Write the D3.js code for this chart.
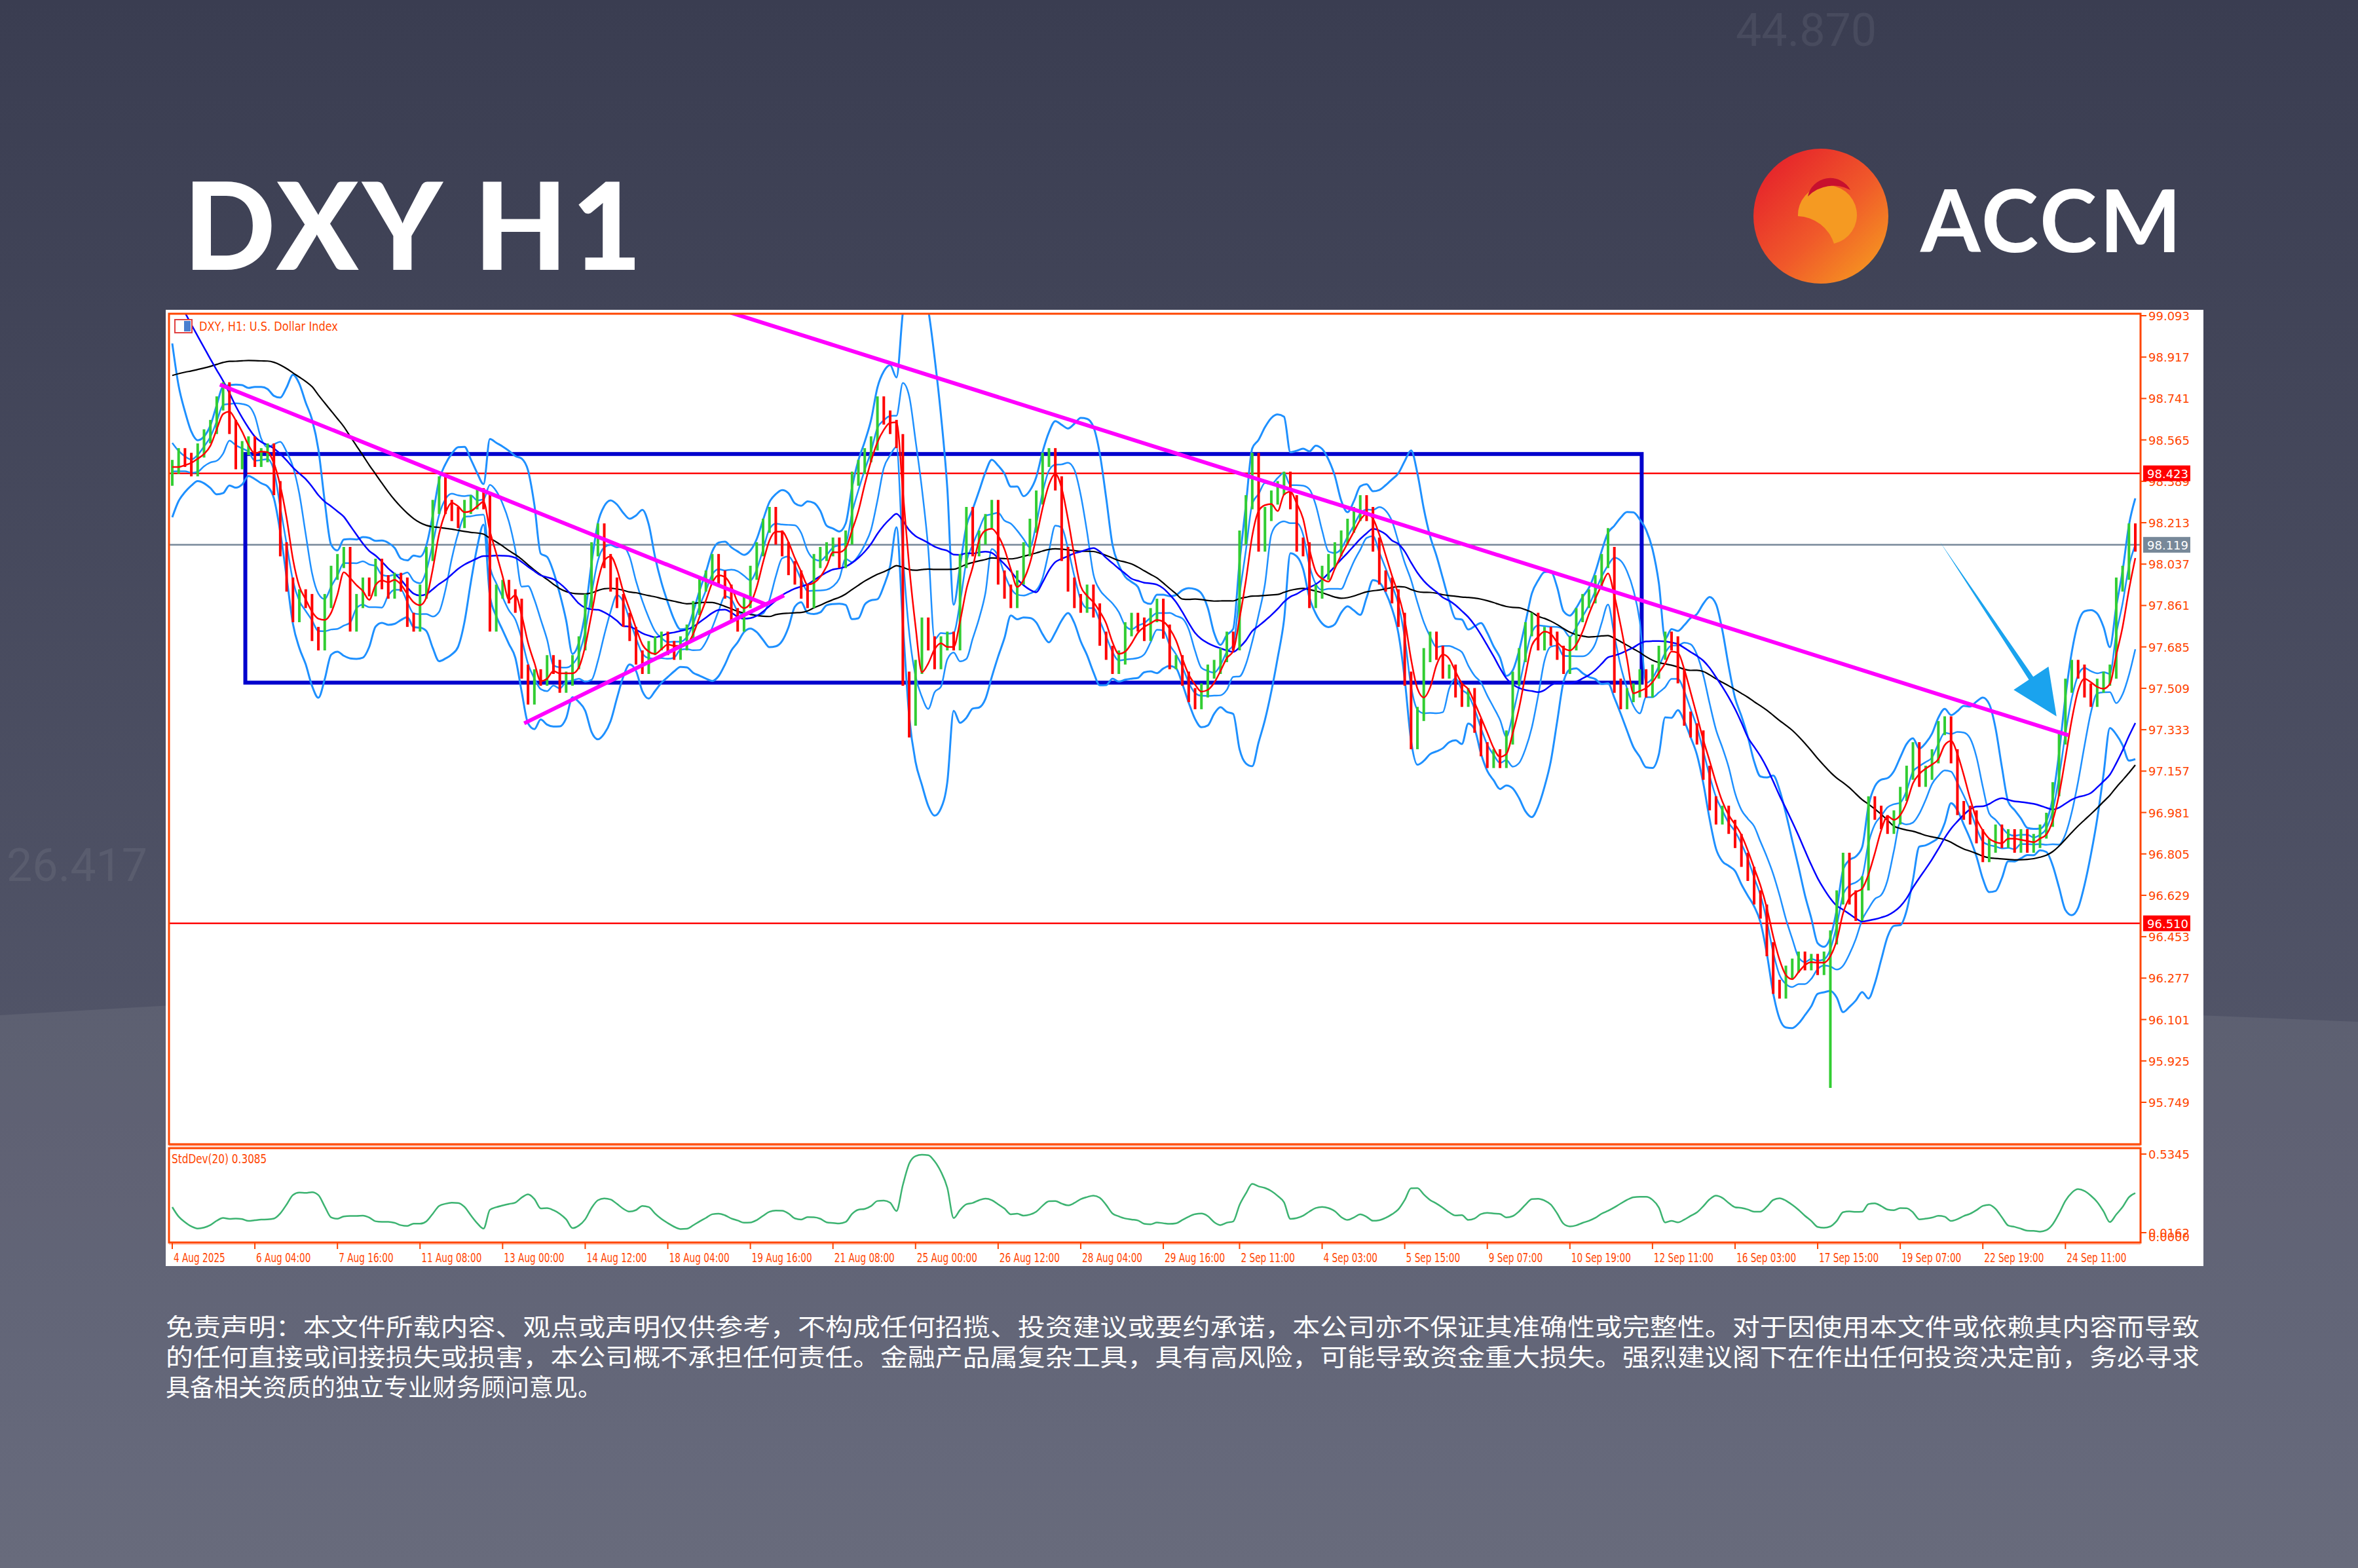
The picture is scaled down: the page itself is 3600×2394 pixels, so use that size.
<!DOCTYPE html>
<html><head><meta charset="utf-8">
<script src="https://cdn.jsdelivr.net/npm/d3@7/dist/d3.min.js"></script>
<style>html,body{margin:0;padding:0;background:#3d4054;}svg{display:block}</style>
</head><body>
<script>
// ---------- DATA ----------
const closes = [
98.45,98.50,98.48,98.44,98.52,98.58,98.62,98.72,98.78,98.62,98.47,98.53,98.55,98.48,98.50,98.52,98.36,98.10,97.95,97.82,
97.90,97.88,97.74,97.70,97.88,98.00,98.05,98.08,97.78,97.88,97.95,97.93,98.03,97.96,97.92,97.97,97.95,97.80,97.78,97.92,
98.08,98.28,98.38,98.28,98.25,98.22,98.28,98.30,98.33,98.30,97.78,97.92,97.94,97.90,97.86,97.58,97.47,97.56,97.55,97.62,
97.60,97.52,97.55,97.62,97.70,97.88,98.10,98.18,98.05,97.95,97.88,97.80,97.74,97.64,97.60,97.68,97.70,97.72,97.68,
97.66,97.70,97.75,97.85,97.95,97.98,98.05,97.98,97.92,97.82,97.78,97.88,98.00,98.10,98.20,98.25,98.15,98.10,98.02,97.98,
97.92,97.88,98.05,98.08,98.10,98.12,98.05,98.15,98.40,98.45,98.50,98.55,98.72,98.66,98.62,98.56,97.55,97.38,97.60,97.78,
97.70,97.62,97.70,97.72,97.70,98.05,98.25,98.10,98.15,98.22,98.28,97.98,97.92,97.88,97.98,98.10,98.20,98.32,98.48,98.50,
98.38,98.08,97.95,97.88,97.86,97.92,97.84,97.72,97.66,97.60,97.64,97.76,97.80,97.78,97.74,97.82,97.86,
97.75,97.62,97.62,97.55,97.48,97.45,97.50,97.58,97.60,97.65,97.72,97.70,98.15,98.30,98.48,98.12,98.25,98.32,98.36,98.40,
98.30,98.12,98.10,97.88,97.92,98.00,98.05,98.10,98.15,98.20,98.25,98.30,98.25,98.12,97.98,97.95,97.90,97.80,97.55,97.28,
97.40,97.65,97.72,97.66,97.58,97.58,97.50,97.46,97.48,97.35,97.25,97.20,97.22,97.20,97.30,97.55,97.65,97.76,97.80,97.70,
97.74,97.72,97.66,97.60,97.70,97.82,97.88,97.90,97.96,98.05,98.08,97.52,97.45,97.48,97.50,97.56,97.50,
97.58,97.66,97.72,97.70,97.56,97.38,97.33,97.30,97.15,97.02,96.96,96.98,96.92,96.86,96.78,96.72,96.62,96.56,96.40,96.24,
96.22,96.30,96.33,96.36,96.34,96.35,96.32,96.36,96.45,96.62,96.78,96.62,96.55,96.68,97.02,96.98,96.94,96.92,96.96,97.06,
97.15,97.25,97.12,97.15,97.22,97.34,97.36,97.22,97.00,96.98,96.96,96.88,96.80,96.84,96.90,96.86,96.88,96.84,96.88,96.84,
96.86,96.90,96.95,97.08,97.30,97.52,97.60,97.58,97.50,97.46,97.52,97.55,97.58,97.95,98.00,98.18,98.12
];
// closes before the visible window (used only to seed the moving averages)
const history = [98.10,98.15,98.20,98.20,98.25,98.30,98.30,98.35,98.40,98.40,98.45,98.45,98.50,98.50,98.55,98.55,98.60,98.60,98.65,98.65,98.70,98.70,98.75,
99.30,99.40,99.50,99.55,99.60,99.65,99.70,99.75,99.80,99.75,99.70,99.60,99.50,99.30,99.00,98.80,98.70,98.60,98.55,98.50,98.45,98.40];
const firstOpen = 98.40;
const spikeHighs = [[226, 98.19]];
const spikeLows = [[116, 97.30], [261, 95.81]];
const priceTicks = ["99.093","98.917","98.741","98.565","98.389","98.213","98.037","97.861","97.685","97.509","97.333","97.157","96.981","96.805","96.629","96.453","96.277","96.101","95.925","95.749"];
const timeLabels = ["4 Aug 2025","6 Aug 04:00","7 Aug 16:00","11 Aug 08:00","13 Aug 00:00","14 Aug 12:00","18 Aug 04:00","19 Aug 16:00","21 Aug 08:00","25 Aug 00:00","26 Aug 12:00","28 Aug 04:00","29 Aug 16:00","2 Sep 11:00","4 Sep 03:00","5 Sep 15:00","9 Sep 07:00","10 Sep 19:00","12 Sep 11:00","16 Sep 03:00","17 Sep 15:00","19 Sep 07:00","22 Sep 19:00","24 Sep 11:00"];
const timeIdx = [0,13,26,39,52,65,78,91,104,117,130,143,156,168,181,194,207,220,233,246,259,272,285,298];
const hLines = [{v:98.423,c:"#ff0000",label:"98.423"},{v:96.510,c:"#ff0000",label:"96.510"},{v:98.119,c:"#778899",label:"98.119"}];
const rectBox = {i0:11.5,i1:231.3,p0:98.505,p1:97.533};
const trendLines = [[87.9,99.106,298.5,97.309],[7.5,98.80,93.5,97.865],[55.4,97.36,96.3,97.904]];
const arrowLine = [278.2,98.134,296.6,97.39];
const stdTicks = [0.5345,0.0162];
const disclaimer = ["免责声明：本文件所载内容、观点或声明仅供参考，不构成任何招揽、投资建议或要约承诺，本公司亦不保证其准确性或完整性。对于因使用本文件或依赖其内容而导致",
"的任何直接或间接损失或损害，本公司概不承担任何责任。金融产品属复杂工具，具有高风险，可能导致资金重大损失。强烈建议阁下在作出任何投资决定前，务必寻求",
"具备相关资质的独立专业财务顾问意见。"];

// ---------- SETUP ----------
const W=3600,H=2394;
const svg=d3.select("body").append("svg").attr("width",W).attr("height",H);
const defs=svg.append("defs");
const bg=defs.append("linearGradient").attr("id","bg").attr("x1",0).attr("y1",0).attr("x2",0).attr("y2",1);
bg.append("stop").attr("offset",0).attr("stop-color","#3a3d51");
bg.append("stop").attr("offset",1).attr("stop-color","#5d6073");
svg.append("rect").attr("width",W).attr("height",H).attr("fill","url(#bg)");
svg.append("path").attr("d","M0,1550 L1400,1470 L3600,1560 L3600,2394 L0,2394Z").attr("fill","rgba(255,255,255,0.07)");
svg.append("text").attr("x",10).attr("y",1345).attr("font-family","Roboto").attr("font-size",70).attr("fill","rgba(255,255,255,0.07)").text("26.417");
svg.append("text").attr("x",2650).attr("y",70).attr("font-family","Roboto").attr("font-size",70).attr("fill","rgba(255,255,255,0.07)").text("44.870");

// title
svg.append("text").attr("x",280).attr("y",412).attr("font-family","Lato, 'Open Sans', sans-serif").attr("font-weight",900)
  .attr("font-size",185).attr("fill","#ffffff").attr("letter-spacing",6).text("DXY H1");
// logo
const lg=defs.append("linearGradient").attr("id","lg").attr("x1",0).attr("y1",0).attr("x2",1).attr("y2",1);
lg.append("stop").attr("offset",0).attr("stop-color","#e3162b");
lg.append("stop").attr("offset",0.55).attr("stop-color","#f0592a");
lg.append("stop").attr("offset",1).attr("stop-color","#f7a51e");
svg.append("circle").attr("cx",2780).attr("cy",330).attr("r",103).attr("fill","url(#lg)");
svg.append("path").attr("d","M2745,330 A45,45 0 1 1 2800,372 A60,60 0 0 0 2745,330Z").attr("fill","#f59a22");
svg.append("path").attr("d","M2760,300 A35,35 0 0 1 2825,290 A55,55 0 0 0 2760,300Z").attr("fill","#c8102e");
svg.append("text").attr("x",2932).attr("y",385).attr("font-family","Lato, sans-serif").attr("font-weight",700)
  .attr("font-size",132).attr("fill","#ffffff").attr("letter-spacing",4).text("ACCM");

// chart panel
const PX0=253, PX1=3364, PY0=473, PY1=1933;
svg.append("rect").attr("x",PX0).attr("y",PY0).attr("width",PX1-PX0).attr("height",PY1-PY0).attr("fill","#ffffff");
const L=258, R=3268, T=479, B=1747;
const SB0=1753, SB1=1897;
const orange="#ff4500";
const N=closes.length;
const x=d3.scaleLinear().domain([0,N-1]).range([263,3260]);
const y=d3.scaleLinear().domain([95.749,99.093]).range([1683,482]);
const ys=d3.scaleLinear().domain([0.0162,0.5345]).range([1882,1762]);

const all=history.concat(closes), off=history.length;
const bars=closes.map((c,i)=>{
  const o=i===0?firstOpen:closes[i-1];
  let h=Math.max(o,c)+0.03, l=Math.min(o,c)-0.03;
  spikeHighs.forEach(s=>{if(s[0]===i)h=s[1];});
  spikeLows.forEach(s=>{if(s[0]===i)l=s[1];});
  return {i,o,c,h,l};
});
function sma(p){return closes.map((_,i)=>{const k=i+off;return d3.mean(all.slice(k-p+1,k+1));});}
function sd(p){return closes.map((_,i)=>{const k=i+off;return d3.deviation(all.slice(k-p+1,k+1))*Math.sqrt((p-1)/p);});}
const ma5=sma(4), ma22=sma(22), ma45=sma(45), bbm=sma(9), bbs=sd(9);
const bbm2=sma(6), bbs2=sd(6);
const upOuter=bbm.map((m,i)=>m+2*bbs[i]), dnOuter=bbm.map((m,i)=>m-2*bbs[i]);
const upInner=bbm2.map((m,i)=>m+0.9*bbs2[i]), dnInner=bbm2.map((m,i)=>m-0.9*bbs2[i]);

defs.append("clipPath").attr("id","clipMain").append("rect").attr("x",L+1).attr("y",T+1).attr("width",R-L-2).attr("height",B-T-2);
const g=svg.append("g").attr("clip-path","url(#clipMain)");

hLines.forEach(h=>g.append("line").attr("x1",L).attr("x2",R).attr("y1",y(h.v)).attr("y2",y(h.v)).attr("stroke",h.c).attr("stroke-width",2.5));
g.append("rect").attr("x",x(rectBox.i0)).attr("y",y(rectBox.p0)).attr("width",x(rectBox.i1)-x(rectBox.i0))
  .attr("height",y(rectBox.p1)-y(rectBox.p0)).attr("fill","none").attr("stroke","#0000cd").attr("stroke-width",6);

const line=d3.line().x((d,i)=>x(i)).y(d=>y(d)).curve(d3.curveMonotoneX);
[[upOuter,"#1e90ff",3],[dnOuter,"#1e90ff",3],[upInner,"#1e90ff",2.5],[dnInner,"#1e90ff",2.5],
 [ma45,"#000000",2.2],[ma22,"#0000ff",2.5]].forEach(a=>
  g.append("path").attr("d",line(a[0])).attr("fill","none").attr("stroke",a[1]).attr("stroke-width",a[2]));

g.selectAll("line.bar").data(bars).enter().append("line").attr("class","bar")
  .attr("x1",d=>x(d.i)).attr("x2",d=>x(d.i)).attr("y1",d=>y(d.h)).attr("y2",d=>y(d.l))
  .attr("stroke",d=>d.c>=d.o?"#32cd32":"#ff0000").attr("stroke-width",4);
g.append("path").attr("d",line(ma5)).attr("fill","none").attr("stroke","#ff0000").attr("stroke-width",2.5);

trendLines.forEach(t=>g.append("line").attr("x1",x(t[0])).attr("y1",y(t[1])).attr("x2",x(t[2])).attr("y2",y(t[3]))
  .attr("stroke","#ff00ff").attr("stroke-width",6));
{
  const x1=x(arrowLine[0]),y1=y(arrowLine[1]),x2=x(arrowLine[2]),y2=y(arrowLine[3]);
  const ang=Math.atan2(y2-y1,x2-x1), hl=70, hw=32;
  const bx=x2-hl*Math.cos(ang), by=y2-hl*Math.sin(ang);
  g.append("path").attr("d",`M${x1},${y1} L${bx+4*Math.sin(ang)},${by-4*Math.cos(ang)} L${bx+hw*Math.sin(ang)},${by-hw*Math.cos(ang)} L${x2},${y2} L${bx-hw*Math.sin(ang)},${by+hw*Math.cos(ang)} L${bx-4*Math.sin(ang)},${by+4*Math.cos(ang)}Z`)
   .attr("fill","#1aa3ee");
}

svg.append("rect").attr("x",L).attr("y",T).attr("width",R-L).attr("height",B-T).attr("fill","none").attr("stroke",orange).attr("stroke-width",3);
svg.append("rect").attr("x",L).attr("y",SB0).attr("width",R-L).attr("height",SB1-SB0).attr("fill","none").attr("stroke",orange).attr("stroke-width",3);
svg.append("line").attr("x1",L).attr("x2",R).attr("y1",B+2).attr("y2",B+2).attr("stroke","#ff9d80").attr("stroke-width",2);
svg.append("line").attr("x1",L).attr("x2",R).attr("y1",SB1+2).attr("y2",SB1+2).attr("stroke","#ff9d80").attr("stroke-width",2);

const font="'DejaVu Sans', sans-serif";
priceTicks.forEach(t=>{
  const yy=y(+t);
  svg.append("line").attr("x1",R).attr("x2",R+9).attr("y1",yy).attr("y2",yy).attr("stroke",orange).attr("stroke-width",2);
  svg.append("text").attr("x",R+12).attr("y",yy+7).attr("font-family",font).attr("font-size",18).attr("fill",orange).text(t);
});
hLines.forEach(h=>{
  const yy=y(h.v);
  svg.append("rect").attr("x",R+4).attr("y",yy-12).attr("width",72).attr("height",24).attr("fill",h.c);
  svg.append("text").attr("x",R+10).attr("y",yy+7).attr("font-family",font).attr("font-size",18).attr("fill","#ffffff").text(h.label);
});
stdTicks.forEach(v=>{
  const yy=ys(v);
  svg.append("line").attr("x1",R).attr("x2",R+9).attr("y1",yy).attr("y2",yy).attr("stroke",orange).attr("stroke-width",2);
  svg.append("text").attr("x",R+12).attr("y",yy+7).attr("font-family",font).attr("font-size",18).attr("fill",orange).text(v.toFixed(4));
});
svg.append("text").attr("x",R+12).attr("y",ys(0.0162)+13).attr("font-family",font).attr("font-size",18).attr("fill",orange).text("0.0000");

const nfont="'Liberation Sans Narrow','DejaVu Sans Condensed',sans-serif";
timeLabels.forEach((t,k)=>{
  const xx=x(timeIdx[k]);
  svg.append("line").attr("x1",xx).attr("x2",xx).attr("y1",SB1).attr("y2",SB1+10).attr("stroke",orange).attr("stroke-width",2);
  svg.append("text").attr("transform",`translate(${xx+2},${SB1+30}) scale(0.8,1)`).attr("font-family",nfont).attr("font-size",19).attr("fill",orange).text(t);
});

defs.append("clipPath").attr("id","clipSub").append("rect").attr("x",L+1).attr("y",SB0+1).attr("width",R-L-2).attr("height",SB1-SB0-2);
const sdLine=d3.line().x((d,i)=>x(i)).y(d=>ys(d)).curve(d3.curveMonotoneX);
svg.append("g").attr("clip-path","url(#clipSub)").append("path").attr("d",sdLine(bbs)).attr("fill","none").attr("stroke","#3cb371").attr("stroke-width",2.5);

svg.append("rect").attr("x",267).attr("y",488).attr("width",26).attr("height",20).attr("fill","#fff").attr("stroke","#e04040").attr("stroke-width",2);
svg.append("rect").attr("x",281).attr("y",490).attr("width",10).attr("height",16).attr("fill","#4a7fd0");
svg.append("text").attr("transform","translate(304,505) scale(0.9,1)").attr("font-family",nfont).attr("font-size",20).attr("fill",orange).text("DXY, H1:  U.S. Dollar Index");
svg.append("text").attr("transform","translate(262,1776) scale(0.85,1)").attr("font-family",nfont).attr("font-size",20).attr("fill",orange).text("StdDev(20) 0.3085");

disclaimer.forEach((t,k)=>{
  const tx=svg.append("text").attr("x",253).attr("y",2040+k*46).attr("font-family","'Noto Sans CJK SC', sans-serif")
   .attr("font-size",37).attr("fill","#ffffff").text(t);
  if(k<2) tx.attr("textLength",3105).attr("lengthAdjust","spacingAndGlyphs");
});
</script>
</body></html>
